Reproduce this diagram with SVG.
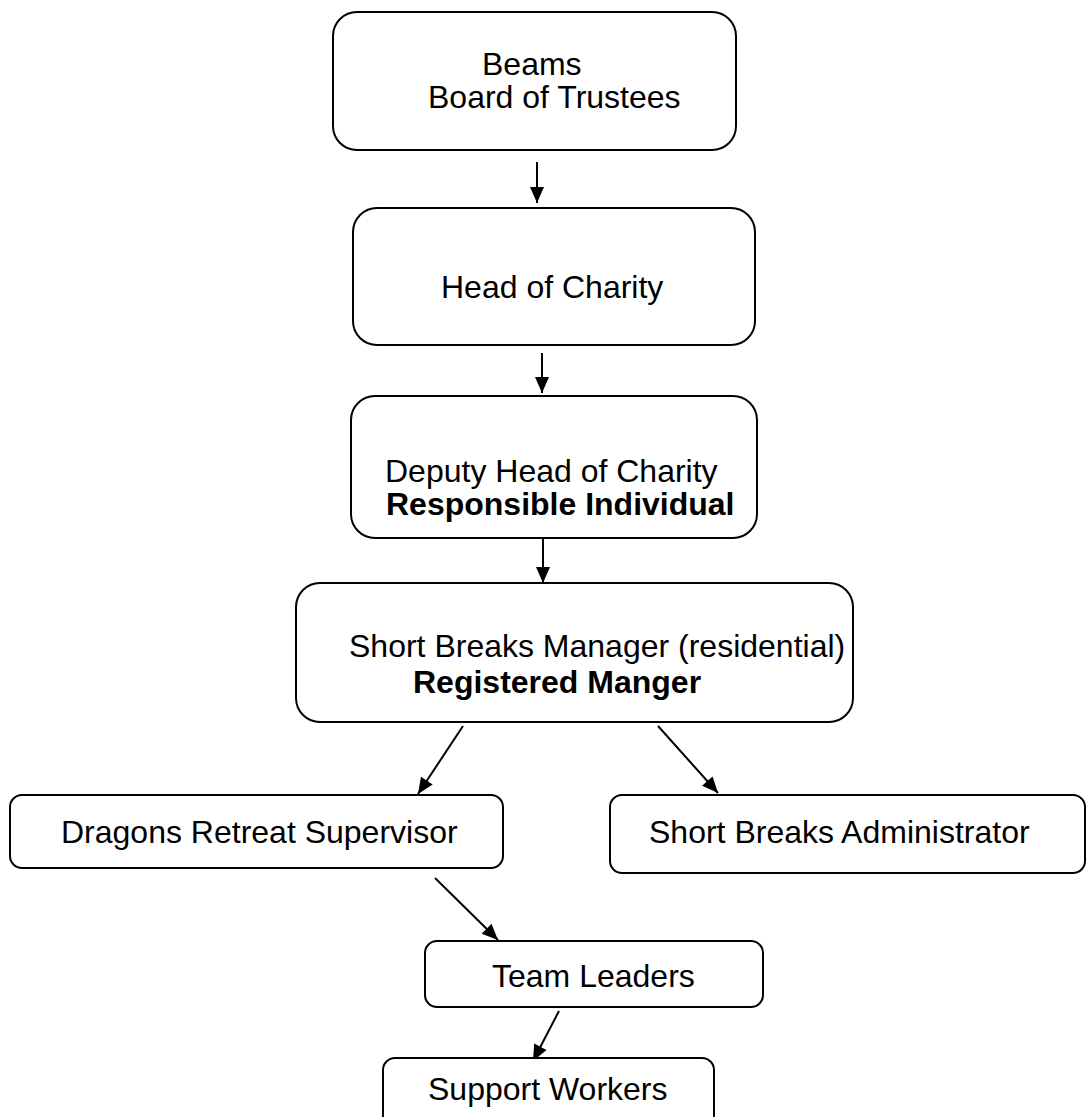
<svg xmlns="http://www.w3.org/2000/svg" width="1092" height="1117" viewBox="0 0 1092 1117">
<style>
.box{fill:#fff;stroke:#000;stroke-width:2}
.t{font-family:"Liberation Sans",Arial,sans-serif;font-size:32px;fill:#000}
.b{font-weight:bold}
.c{stroke:#000;stroke-width:2;fill:none;marker-end:url(#ah)}
</style>
<defs>
<marker id="ah" markerUnits="userSpaceOnUse" markerWidth="20" markerHeight="20" viewBox="0 0 20 20" refX="18" refY="10" orient="auto">
<path d="M2,3 L18,10 L2,17 Z" fill="#000"/>
</marker>
</defs>
<rect width="1092" height="1117" fill="#fff"/>
<g id="connectors">
<line class="c" x1="537" y1="162" x2="537" y2="203"/>
<line class="c" x1="542" y1="353" x2="542" y2="393"/>
<line class="c" x1="543" y1="538" x2="543" y2="583"/>
<line class="c" x1="463" y1="726" x2="418" y2="794"/>
<line class="c" x1="658" y1="726" x2="718" y2="793"/>
<line class="c" x1="435" y1="878" x2="498" y2="940"/>
<line class="c" x1="559" y1="1011" x2="533" y2="1061"/>
</g>
<g id="n1"><rect class="box" x="333" y="12" width="403" height="138" rx="24"/>
<text class="t" x="482" y="75">Beams</text><text class="t" x="428" y="108">Board of Trustees</text></g>
<g id="n2"><rect class="box" x="353" y="208" width="402" height="137" rx="24"/>
<text class="t" x="441" y="298">Head of Charity</text></g>
<g id="n3"><rect class="box" x="351" y="396" width="406" height="142" rx="24"/>
<text class="t" x="385" y="482">Deputy Head of Charity</text><text class="t b" x="386" y="515">Responsible Individual</text></g>
<g id="n4"><rect class="box" x="296" y="583" width="557" height="139" rx="24"/>
<text class="t" x="349" y="657">Short Breaks Manager (residential)</text><text class="t b" x="413" y="693">Registered Manger</text></g>
<g id="n5"><rect class="box" x="10" y="795" width="493" height="73" rx="12"/>
<text class="t" x="61" y="843">Dragons Retreat Supervisor</text></g>
<g id="n6"><rect class="box" x="610" y="795" width="475" height="78" rx="12"/>
<text class="t" x="649" y="843">Short Breaks Administrator</text></g>
<g id="n7"><rect class="box" x="425" y="941" width="338" height="66" rx="12"/>
<text class="t" x="492" y="987">Team Leaders</text></g>
<g id="n8"><rect class="box" x="383" y="1058" width="331" height="70" rx="12"/>
<text class="t" x="428" y="1100">Support Workers</text></g>
</svg>
